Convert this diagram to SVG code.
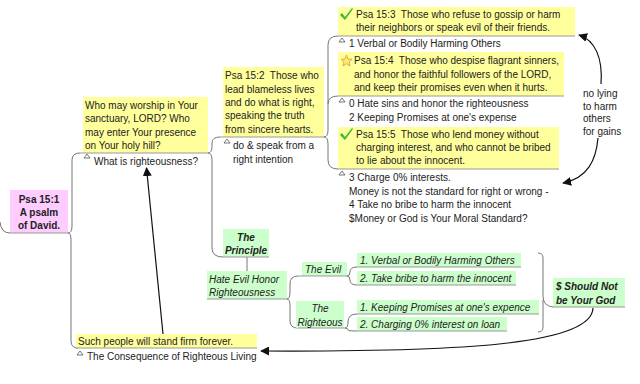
<svg xmlns="http://www.w3.org/2000/svg" width="640" height="384" viewBox="0 0 640 384">
<defs>
<style>
text{font-family:"Liberation Sans",Arial,sans-serif;font-size:10px;fill:#222;white-space:pre}
.b{font-weight:bold}.i{font-style:italic}.c{text-anchor:middle}
.y{fill:#ffff9c}.p{fill:#ffccff}.g{fill:#ccffcc}
.ul{stroke:#999;stroke-width:1;fill:none}
.br{stroke:#777;stroke-width:1;fill:none}
.tri{fill:#fff;stroke:#555;stroke-width:0.8}
.ar{stroke:#111;stroke-width:1.2;fill:none}
.chk{fill:#3cb93c}
</style>
<marker id="ah" viewBox="0 0 10 10" refX="9" refY="5" markerWidth="9" markerHeight="9" markerUnits="userSpaceOnUse" orient="auto">
<path d="M0,0 L10,5 L0,10 z" fill="#111"/>
</marker>
<path id="check" d="M0,6 L2,4 L5,8 L12,-1 L13,0 L5,11 z"/>
</defs>
<rect width="640" height="384" fill="#fff"/>

<g id="connectors">
<path class="br" d="M0,222 Q1,233 10,233"/>
<path class="br" d="M80,153 Q72,153 72,160 L72,226 Q72,233 68,233 M68,233 Q71,233 71,240 L71,341 Q71,348 78,348"/>
<path class="br" d="M208,153 Q212,153 212,146 L212,143 Q212,137 220,137 M208,153 Q212,153 212,160 L212,248 Q212,257 223,257"/>
<path class="br" d="M324,137 Q328,137 328,130 L328,45 Q328,36 338,36 M328,104 Q328,96 338,96 M324,137 Q328,137 328,144 L328,160 Q328,169 338,169"/>
<path class="br" d="M247,257 L247,271"/>
<path class="br" d="M287,299 Q290,299 290,292 L290,284 Q290,276 298,276 M287,299 Q290,299 290,306 L290,321 Q290,328 298,328"/>
<path class="br" d="M347,276 Q350,276 350,272 Q350,267 357,267 M347,276 Q350,276 350,280 Q350,285 357,285"/>
<path class="br" d="M345,328 Q348,328 348,322 Q348,314 357,314 M345,328 Q348,328 348,330 Q348,331 357,331"/>
<path class="br" d="M538,253 Q543,253 543,258 L543,296 Q543,306 553,307 M538,332 Q543,332 543,327 L543,300"/>
<path class="ar" d="M593,308 C592,345 460,352 261,351" marker-end="url(#ah)"/>
<path class="ar" stroke-width="1.6" d="M163,334 L146.5,168" marker-end="url(#ah)"/>
<path class="ar" d="M601,84 C603,58 595,40 579,35" marker-end="url(#ah)"/>
<path class="ar" d="M598,138 C596,160 588,178 563,183" marker-end="url(#ah)"/>
<text x="583" y="97" fill="#333">no lying</text>
<text x="583" y="110" fill="#333">to harm</text>
<text x="583" y="122" fill="#333">others</text>
<text x="583" y="135" fill="#333">for gains</text>
</g>

<g id="n-root">
<rect class="p" x="10" y="190" width="58" height="43"/>
<line class="ul" x1="10" y1="233" x2="68" y2="233"/>
<text class="b c" x="39" y="203">Psa 15:1</text>
<text class="b c" x="39" y="216">A psalm</text>
<text class="b c" x="39" y="229">of David.</text>
</g>

<g id="n-who">
<rect class="y" x="83" y="97" width="125" height="56"/>
<line class="ul" x1="80" y1="153" x2="208" y2="153"/>
<text x="85" y="109">Who may worship in Your</text>
<text x="85" y="122">sanctuary, LORD? Who</text>
<text x="85" y="136">may enter Your presence</text>
<text x="85" y="149">on Your holy hill?</text>
<path class="tri" d="M84,158 L87,154 L90,158 z"/>
<text x="94" y="165">What is righteousness?</text>
</g>

<g id="n-psa152">
<rect class="y" x="223" y="67" width="101" height="70"/>
<line class="ul" x1="220" y1="137" x2="324" y2="137"/>
<text x="225" y="79">Psa 15:2  Those who</text>
<text x="225" y="93">lead blameless lives</text>
<text x="225" y="106">and do what is right,</text>
<text x="225" y="119">speaking the truth</text>
<text x="225" y="133">from sincere hearts.</text>
<path class="tri" d="M224,143 L227,139 L230,143 z"/>
<text x="233" y="149">do &amp; speak from a</text>
<text x="233" y="163">right intention</text>
</g>

<g id="n-psa153">
<rect class="y" x="338" y="7" width="237" height="29"/>
<line class="ul" x1="338" y1="36" x2="575" y2="36"/>
<use href="#check" class="chk" x="340" y="9"/>
<text x="356" y="18">Psa 15:3  Those who refuse to gossip or harm</text>
<text x="356" y="31">their neighbors or speak evil of their friends.</text>
<path class="tri" d="M339,42 L342,38 L345,42 z"/>
<text x="349" y="47">1 Verbal or Bodily Harming Others</text>
</g>

<g id="n-psa154">
<rect class="y" x="338" y="52" width="226" height="44"/>
<line class="ul" x1="338" y1="96" x2="564" y2="96"/>
<path d="M346.5,55 L348,59 L352,59.3 L349,62 L350,66 L346.5,63.7 L343,66 L344,62 L341,59.3 L345,59 z" fill="#ffe680" stroke="#d9a020" stroke-width="0.8"/>
<text x="354" y="64">Psa 15:4  Those who despise flagrant sinners,</text>
<text x="354" y="78">and honor the faithful followers of the LORD,</text>
<text x="354" y="91">and keep their promises even when it hurts.</text>
<path class="tri" d="M339,102 L342,98 L345,102 z"/>
<text x="349" y="107">0 Hate sins and honor the righteousness</text>
<text x="349" y="121">2 Keeping Promises at one's expense</text>
</g>

<g id="n-psa155">
<rect class="y" x="338" y="127" width="221" height="42"/>
<line class="ul" x1="338" y1="169" x2="559" y2="169"/>
<use href="#check" class="chk" x="340" y="129"/>
<text x="356" y="138">Psa 15:5  Those who lend money without</text>
<text x="356" y="151">charging interest, and who cannot be bribed</text>
<text x="356" y="164">to lie about the innocent.</text>
<path class="tri" d="M339,175 L342,171 L345,175 z"/>
<text x="349" y="181">3 Charge 0% interests.</text>
<text x="349" y="195">Money is not the standard for right or wrong -</text>
<text x="349" y="208">4 Take no bribe to harm the innocent</text>
<text x="349" y="222">$Money or God is Your Moral Standard?</text>
</g>

<g id="n-principle">
<rect class="g" x="223" y="229" width="46" height="28"/>
<line class="ul" x1="223" y1="257" x2="269" y2="257"/>
<text class="b i c" x="246" y="241">The</text>
<text class="b i c" x="246" y="254">Principle</text>
</g>

<g id="n-hate">
<rect class="g" x="207" y="271" width="80" height="28"/>
<line class="ul" x1="207" y1="299" x2="287" y2="299"/>
<text class="i" x="209" y="283">Hate Evil Honor</text>
<text class="i" x="209" y="296">Righteousness</text>
</g>

<g id="n-evil">
<rect class="g" x="302" y="262" width="45" height="14"/>
<line class="ul" x1="298" y1="276" x2="347" y2="276"/>
<text class="i" x="305" y="273">The Evil</text>
</g>

<g id="n-righteous">
<rect class="g" x="296" y="301" width="48" height="27"/>
<line class="ul" x1="298" y1="328" x2="345" y2="328"/>
<text class="i c" x="320" y="312">The</text>
<text class="i c" x="320" y="326">Righteous</text>
</g>

<g id="n-e1">
<rect class="g" x="357" y="253" width="164" height="14"/>
<line class="ul" x1="357" y1="267" x2="521" y2="267"/>
<text class="i" x="360" y="264">1. Verbal or Bodily Harming Others</text>
</g>
<g id="n-e2">
<rect class="g" x="357" y="271" width="159" height="14"/>
<line class="ul" x1="357" y1="285" x2="516" y2="285"/>
<text class="i" x="360" y="282">2. Take bribe to harm the innocent</text>
</g>
<g id="n-r1">
<rect class="g" x="357" y="300" width="182" height="14"/>
<line class="ul" x1="357" y1="314" x2="539" y2="314"/>
<text class="i" x="360" y="311">1. Keeping Promises at one's expence</text>
</g>
<g id="n-r2">
<rect class="g" x="357" y="317" width="150" height="14"/>
<line class="ul" x1="357" y1="331" x2="507" y2="331"/>
<text class="i" x="360" y="328">2. Charging 0% interest on loan</text>
</g>

<g id="n-money">
<rect class="g" x="553" y="278" width="72" height="29"/>
<line class="ul" x1="553" y1="307" x2="625" y2="307"/>
<text class="b i" x="556" y="290">$ Should Not</text>
<text class="b i" x="556" y="304">be Your God</text>
</g>

<g id="n-such">
<rect class="y" x="76" y="334" width="181" height="14"/>
<line class="ul" x1="76" y1="348" x2="257" y2="348"/>
<text x="78" y="345">Such people will stand firm forever.</text>
<path class="tri" d="M77,355 L80,351 L83,355 z"/>
<text x="87" y="360">The Consequence of Righteous Living</text>
</g>
</svg>
